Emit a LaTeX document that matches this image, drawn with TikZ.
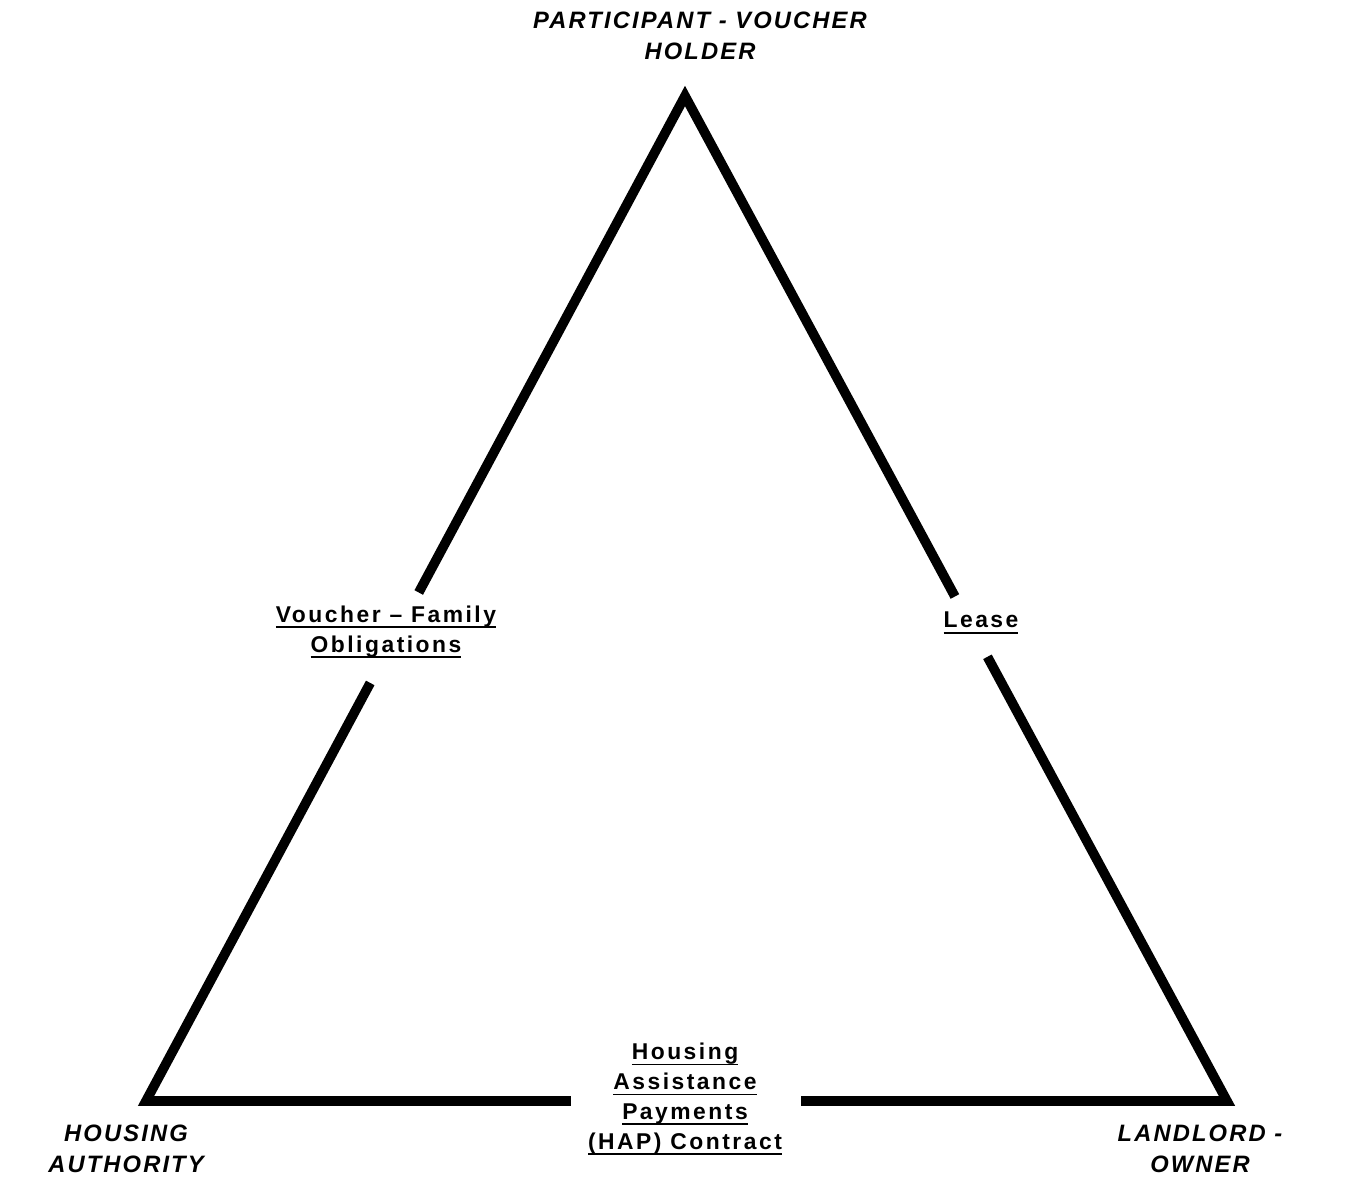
\documentclass[tikz,border=0pt]{standalone}
\usepackage{fontspec}
\setmainfont{Liberation Sans}
\newfontfamily\partyfont[LetterSpace=9]{Liberation Sans}
\newfontfamily\dealfont[LetterSpace=11]{Liberation Sans}
\usetikzlibrary{calc}
\newcommand\ulbar[1]{\setbox0\hbox{#1}\rlap{\rule[-3.3pt]{\wd0}{1pt}}\box0}
\tikzset{
	side/.style={line width=5.5pt, line join=miter, line cap=butt},
	party/.style={align=center, inner sep=0pt, font=\partyfont\bfseries\itshape\fontsize{13.5pt}{17.6pt}\selectfont},
	deal/.style={align=center, inner sep=0pt, font=\dealfont\bfseries\fontsize{13pt}{17pt}\selectfont},
}
\begin{document}
\begin{tikzpicture}[x=0.02cm, y=-0.02cm]
	\useasboundingbox (0,0) rectangle (1348,1194);

	\coordinate (apex) at (685,96);
	\coordinate (ha) at (146,1101);
	\coordinate (lo) at (1227,1101);

	\node[party] (holder) at (700,36) {PARTICIPANT - VOUCHER\\HOLDER};
	\node[party] (auth) at (126,1149) {HOUSING\\AUTHORITY};
	\node[party] (owner) at (1200,1149) {LANDLORD -\\OWNER};

	\node[deal] (family) at (386,632) {\ulbar{Voucher – Family}\\\ulbar{Obligations}};
	\node[deal] (lease) at (981,623) {\ulbar{Lease}};
	\node[deal] (hap) at (685,1099) {\ulbar{Housing}\\\ulbar{Assistance}\\\ulbar{Payments}\\\ulbar{(HAP) Contract}};

	% where the sides break round the labels
	\coordinate (vfUp) at ($(apex)!0.494!(ha)$);
	\coordinate (vfDown) at ($(apex)!0.584!(ha)$);
	\coordinate (lsUp) at ($(apex)!0.498!(lo)$);
	\coordinate (lsDown) at ($(apex)!0.558!(lo)$);
	\coordinate (hapLeft) at ($(ha)!0.393!(lo)$);
	\coordinate (hapRight) at ($(ha)!0.606!(lo)$);

	\draw[side] (vfUp) -- (apex) -- (lsUp);
	\draw[side] (vfDown) -- (ha) -- (hapLeft);
	\draw[side] (hapRight) -- (lo) -- (lsDown);
\end{tikzpicture}
\end{document}
